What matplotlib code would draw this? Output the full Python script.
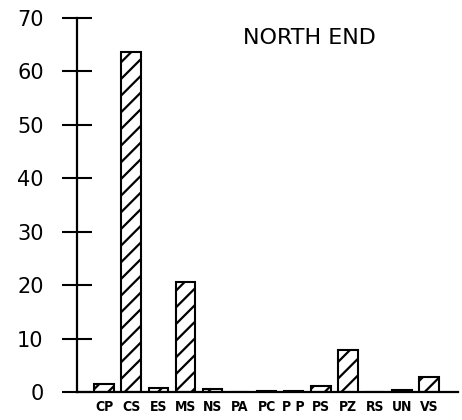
import matplotlib.pyplot as plt

# species codes and percent of catch
species = ['CP', 'CS', 'ES', 'MS', 'NS', 'PA', 'PC', 'P P', 'PS', 'PZ', 'RS', 'UN', 'VS']
percent = [1.5, 63.7, 0.7, 20.6, 0.5, 0.0, 0.1, 0.2, 1.1, 7.8, 0.0, 0.3, 2.8]
yticks = [0, 10, 20, 30, 40, 50, 60, 70]

plt.rcParams['hatch.linewidth'] = 1.6

fig = plt.figure(figsize=(4.62, 4.20), dpi=100)
ax = fig.add_axes([0.1667, 0.0667, 0.8243, 0.8903])

x = list(range(len(species)))
ax.bar(x, percent, width=0.72, color='white', edgecolor='black',
       linewidth=1.5, hatch='//')

ax.set_xlim(-1, 13.06)
ax.set_ylim(0, 70)
ax.spines['top'].set_visible(False)
ax.spines['right'].set_visible(False)
ax.spines['left'].set_linewidth(1.6)
ax.spines['bottom'].set_linewidth(1.6)

ax.set_yticks(yticks)
ax.set_yticklabels([str(v) for v in yticks], fontsize=15, fontweight='medium')
ax.tick_params(axis='y', direction='inout', length=22, width=1.5, pad=13)

ax.set_xticks(x)
ax.set_xticklabels(species, fontsize=10, fontweight='bold', fontstretch='condensed')
ax.tick_params(axis='x', length=0, pad=6)

ax.text(0.61, 0.947, 'NORTH END', transform=ax.transAxes, fontsize=16,
        ha='center', va='center')

fig.savefig('out.png', dpi=100)
